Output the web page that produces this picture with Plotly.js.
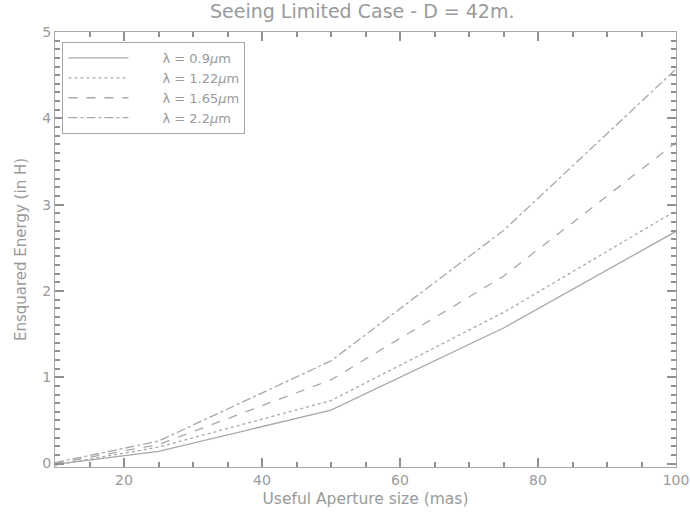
<!DOCTYPE html>
<html>
<head>
<meta charset="utf-8">
<script src="https://cdn.plot.ly/plotly-3.0.1.min.js"></script>
<style>html,body{margin:0;padding:0;background:#fff;}#chart{width:690px;height:519px;}</style>
</head>
<body>
<div id="chart"></div>
<script>
const aperture = [10, 25, 50, 75, 100];
const seriesNames = ['λ = 0.9<i>μ</i>m', 'λ = 1.22<i>μ</i>m', 'λ = 1.65<i>μ</i>m', 'λ = 2.2<i>μ</i>m'];
const ee09 = [-0.01, 0.14, 0.62, 1.57, 2.69];
const ee122 = [-0.02, 0.19, 0.73, 1.75, 2.93];
const ee165 = [0.0, 0.22, 0.97, 2.17, 3.72];
const ee22 = [0.01, 0.26, 1.19, 2.70, 4.57];
const xTicks = [20, 40, 60, 80, 100];
const yTicks = [0, 1, 2, 3, 4, 5];

const gray = '#a8a8a8';
const tickGray = '#909090';
const txt = '#9a9a9a';
const dashes = ['solid', 'dot', 'dash', 'dashdot'];
const values = [ee09, ee122, ee165, ee22];

const traces = values.map((v, i) => ({
  x: aperture, y: v, type: 'scatter', mode: 'lines',
  name: '\u00a0\u00a0\u00a0\u00a0\u00a0\u00a0\u00a0' + seriesNames[i],
  line: {color: gray, width: 1.3, dash: dashes[i]}
}));

const fam = 'DejaVu Sans, sans-serif';
const font = {family: fam, size: 14, color: txt};

const layout = {
  width: 690, height: 519,
  margin: {l: 55, r: 14, t: 32, b: 52},
  paper_bgcolor: '#fff', plot_bgcolor: 'rgba(0,0,0,0)',
  font: font,
  showlegend: true,
  title: {text: 'Seeing Limited Case - D = 42m.', font: {family: fam, size: 19, color: txt}, x: 0.525, xanchor: 'center', y: 0.978, yanchor: 'middle'},
  xaxis: {
    range: [10, 100], tickvals: xTicks, ticks: 'inside', ticklen: 9, tickwidth: 1.5, tickcolor: tickGray,
    showline: true, linecolor: gray, linewidth: 1, mirror: 'ticks', showgrid: false, zeroline: false, layer: 'above traces',
    minor: {dtick: 5, ticks: 'inside', ticklen: 5, tickwidth: 1.5, tickcolor: tickGray, showgrid: false},
    tickfont: font,
    title: {text: 'Useful Aperture size (mas)', font: {family: fam, size: 15.5, color: txt}, standoff: 6}
  },
  yaxis: {
    range: [-0.04, 5], tickvals: yTicks, ticks: 'inside', ticklen: 9, tickwidth: 1.5, tickcolor: tickGray,
    showline: true, linecolor: gray, linewidth: 1, mirror: 'ticks', showgrid: false, zeroline: false, layer: 'above traces',
    minor: {dtick: 0.1, ticks: 'inside', ticklen: 5, tickwidth: 1.5, tickcolor: tickGray, showgrid: false},
    tickfont: font,
    title: {text: 'Ensquared Energy (in H)', font: {family: fam, size: 15, color: txt}, standoff: 12}
  },
  legend: {
    x: 0.012, y: 0.977, xanchor: 'left', yanchor: 'top',
    bordercolor: gray, borderwidth: 1, bgcolor: '#fff',
    font: {family: fam, size: 13, color: txt},
    itemwidth: 60, tracegroupgap: 0
  }
};

Plotly.newPlot('chart', traces, layout, {displayModeBar: false});
</script>
</body>
</html>
